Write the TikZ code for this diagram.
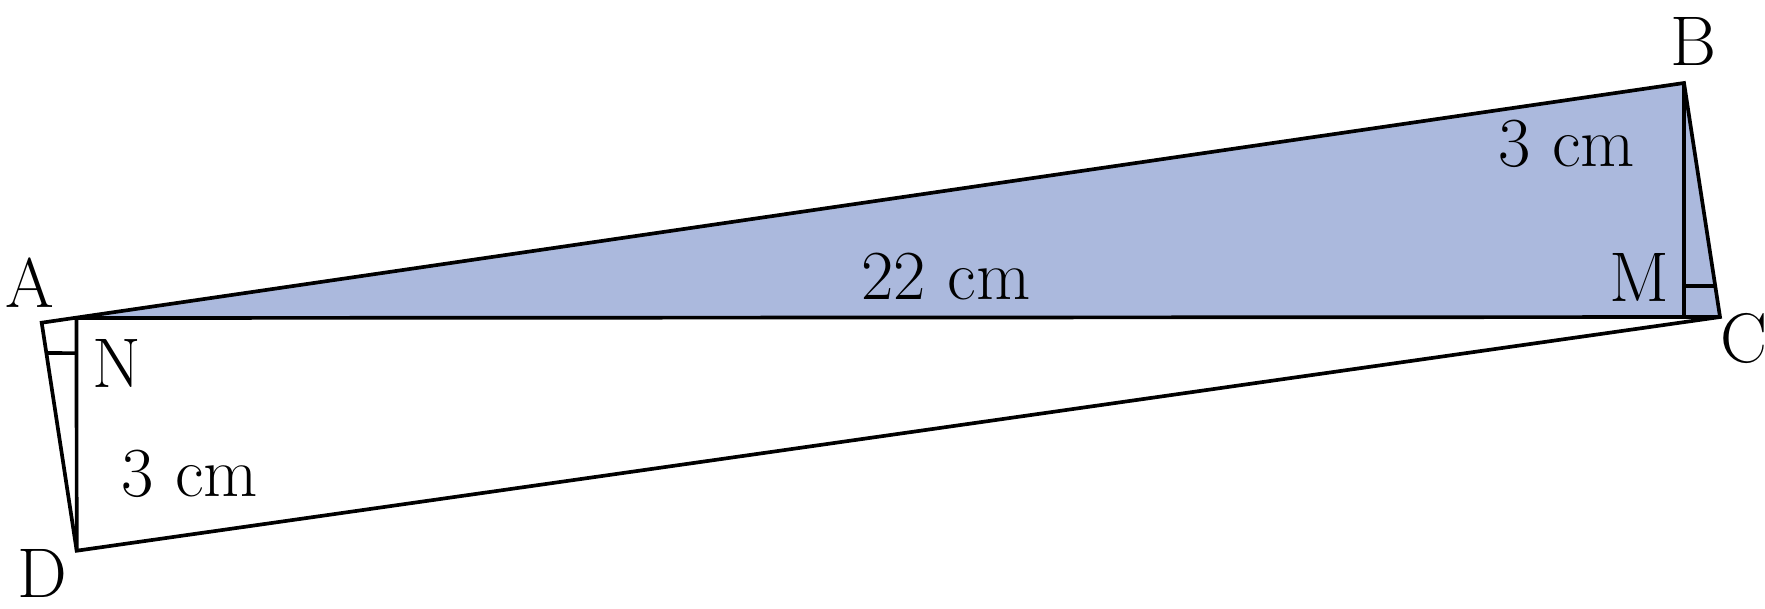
\documentclass[tikz,border=0pt]{standalone}
\usepackage{tikz}
\usetikzlibrary{calc}
\definecolor{shadeblue}{RGB}{171,185,221}

\begin{document}
\begin{tikzpicture}[x=0.1mm,y=-0.1mm,
	side/.style={line width=1.05pt, line join=miter},
	lbl/.style={inner sep=0pt, font=\fontsize{20}{24}\selectfont}]
\useasboundingbox (0,0) rectangle (1765,608);
% corners of the figure
\coordinate (A) at (41.7,322.7);
\coordinate (B) at (1684,83);
\coordinate (C) at (1720,317);
\coordinate (D) at (76.7,550.7);
\coordinate (N) at (76.5,318);
\coordinate (M) at (1684,317);
% shaded triangle
\fill[shadeblue] (N) -- (B) -- (C) -- cycle;
\draw[side] (A) -- (B) -- (C) -- (D) -- cycle;
\draw[side] (N) -- (C);
\draw[side] (N) -- (D);
\draw[side] (B) -- (M);
% right angle marks
\draw[side] ($(N)!0.151!(D)$) -- ($(A)!0.133!(D)$);
\draw[side] ($(B)!0.868!(M)$) -- ($(B)!0.868!(C)$);
% labels
\node[lbl] (la) at (30,283) {A};
\node[lbl] (lb) at (1693,41) {B};
\node[lbl] (lc) at (1744,338) {C};
\node[lbl] (ld) at (42,573) {D};
\node[lbl] (lm) at (1639,277) {M};
\node[lbl] (ln) at (117,363) {N};
\node[lbl] (ac) at (946,277) {22 cm};
\node[lbl] (bm) at (1567,144) {3 cm};
\node[lbl] (dn) at (190,474) {3 cm};
\end{tikzpicture}
\end{document}
